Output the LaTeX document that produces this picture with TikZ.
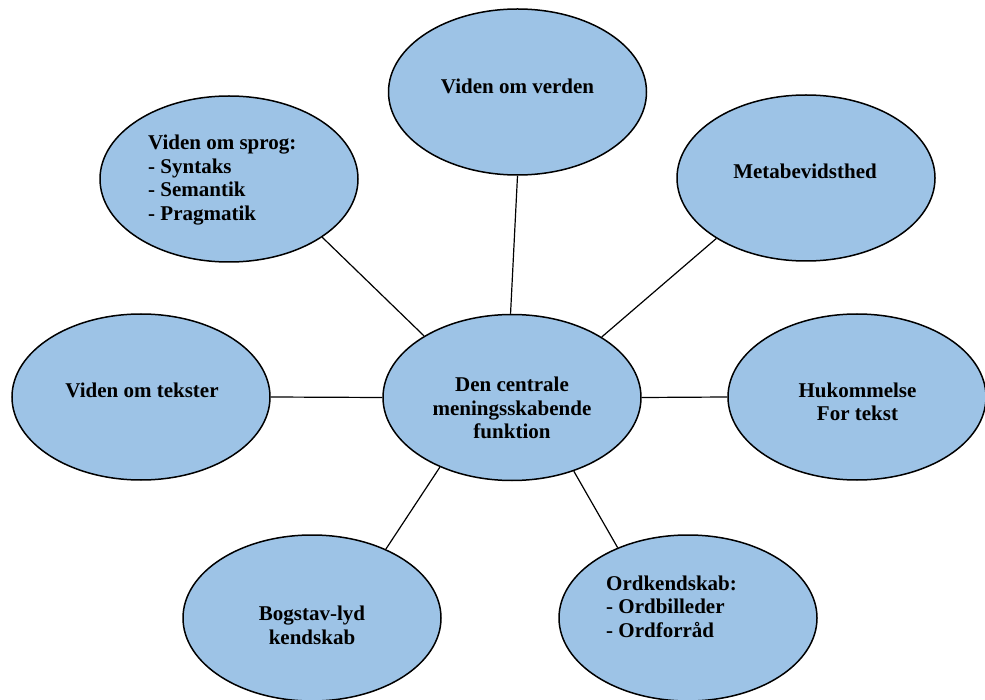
\documentclass[tikz,border=0pt]{standalone}
\usepackage{fontspec}
\setmainfont{Liberation Serif}
\usetikzlibrary{shapes.geometric}
\definecolor{bubble}{HTML}{9DC3E6}
\tikzset{
  bub/.style={ellipse, draw=black, line width=1.5pt, fill=bubble, inner sep=0pt,
    minimum width=258pt, minimum height=166pt},
  lbl/.style={font=\fontsize{21}{23.5}\selectfont\bfseries, inner sep=0pt},
  conn/.style={draw=black, line width=1.2pt}
}
\begin{document}
\begin{tikzpicture}[x=1pt,y=-1pt]
\useasboundingbox (0,0) rectangle (985,700);
\node[bub] (verden) at (517.5,92) {};
\node[bub] (sprog) at (229,179) {};
\node[bub] (meta) at (806,178) {};
\node[bub] (tekster) at (141,397) {};
\node[bub] (center) at (512,397.5) {};
\node[bub] (huk) at (857,397) {};
\node[bub] (bog) at (312,618) {};
\node[bub] (ord) at (688,618) {};

\node[lbl] (tverden) at (517.5,86) {Viden om verden};
\node[lbl, align=left, anchor=west] (tsprog) at (148,180) {Viden om sprog:\\- Syntaks\\- Semantik\\- Pragmatik};
\node[lbl] (tmeta) at (805,171.5) {Metabevidsthed};
\node[lbl] (ttekster) at (142,390) {Viden om tekster};
\node[lbl, align=center] (tcenter) at (512,408) {Den centrale\\meningsskabende\\funktion};
\node[lbl, align=center] (thuk) at (857.5,402) {Hukommelse\\For tekst};
\node[lbl, align=center] (tbog) at (312,625.5) {Bogstav-lyd\\kendskab};
\node[lbl, align=left, anchor=west] (tord) at (606,606.5) {Ordkendskab:\\- Ordbilleder\\- Ordforråd};

\draw[conn] (verden.-90) -- (center.91);
\draw[conn] (sprog.-32.4) -- (center.145.9);
\draw[conn] (meta.-146) -- (center.34.6);
\draw[conn] (tekster.east) -- (center.west);
\draw[conn] (huk.west) -- (center.east);
\draw[conn] (bog.43.8) -- (center.-136.4);
\draw[conn] (ord.135.4) -- (center.-50.9);
\end{tikzpicture}
\end{document}
